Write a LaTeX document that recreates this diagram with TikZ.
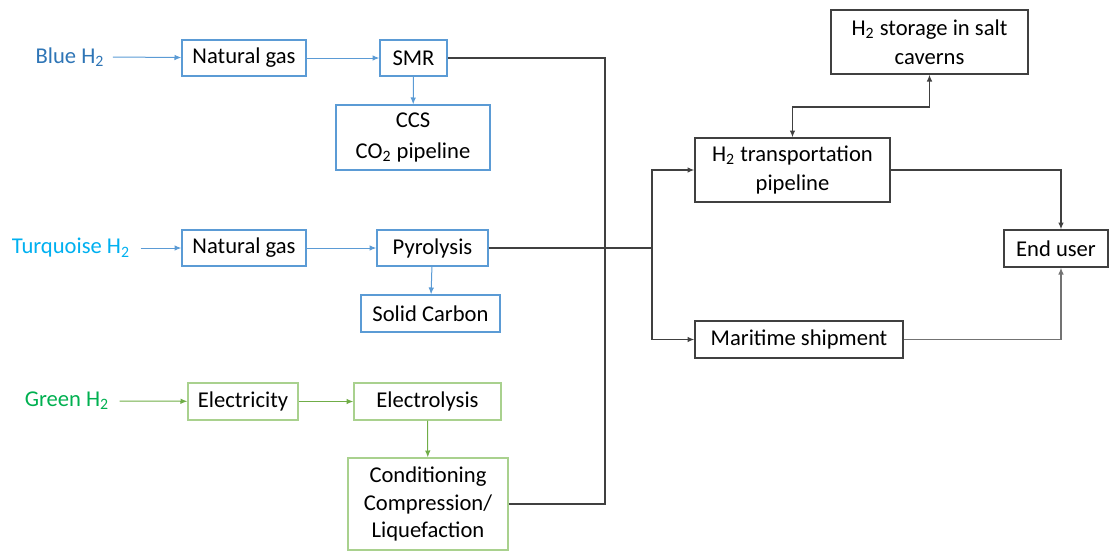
\documentclass[tikz,border=0pt]{standalone}
\usepackage{fontspec}
\setmainfont{Carlito}
\usepackage{xcolor}
\usetikzlibrary{arrows.meta}

\definecolor{blutxt}{RGB}{46,117,182}
\definecolor{blulin}{RGB}{91,155,213}
\definecolor{turtxt}{RGB}{0,176,240}
\definecolor{grntxt}{RGB}{0,176,80}
\definecolor{grnbox}{RGB}{169,209,142}
\definecolor{grnlin}{RGB}{112,173,71}
\definecolor{darklin}{RGB}{64,64,64}

\begin{document}
\begin{tikzpicture}[x=0.5pt, y=-0.5pt,
        every node/.style={font=\fontsize{11.3}{13.6}\selectfont, inner sep=0pt, align=center},
        box/.style={draw, line width=0.7pt},
        bluebox/.style={box, draw=blulin},
        greenbox/.style={box, draw=grnbox},
        blackbox/.style={box, draw=darklin},
        tip/.style={-{Latex[length=3.4pt, width=2.8pt]}},
        blueln/.style={tip, draw=blulin, line width=0.5pt},
        greenln/.style={tip, draw=grnlin, line width=0.5pt},
        darkln/.style={draw=darklin, line width=0.6pt}]
        \useasboundingbox (0, 0) rectangle (1110, 552);

        % blue route
        \node[text=blutxt] at (70, 57) (blue) {Blue H\textsubscript{2}};
        \node[bluebox, minimum width=62pt, minimum height=18pt] at (244, 58) (gas1) {Natural gas};
        \node[bluebox, minimum width=33.5pt, minimum height=18pt] at (413.5, 58) (smr) {SMR};
        \node[bluebox, minimum width=77pt, minimum height=32.5pt] at (413, 137.5) (ccs) {CCS\\[2pt]CO\textsubscript{2} pipeline};
        \draw[blueln] ([xshift=4pt]blue.east) -- (gas1);
        \draw[blueln] (gas1) -- (smr);
        \draw[blueln] (smr) -- (ccs);

        % turquoise route
        \node[text=turtxt] at (71, 248) (turq) {Turquoise H\textsubscript{2}};
        \node[bluebox, minimum width=62pt, minimum height=18pt] at (244, 248) (gas2) {Natural gas};
        \node[bluebox, minimum width=55.5pt, minimum height=18pt] at (432.5, 248) (pyro) {Pyrolysis};
        \node[bluebox, minimum width=69.5pt, minimum height=18.5pt] at (430.5, 313.5) (carbon) {Solid Carbon};
        \draw[blueln] ([xshift=5pt]turq.east) -- (gas2);
        \draw[blueln] (gas2) -- (pyro);
        \draw[blueln] (pyro) -- (carbon);

        % green route
        \node[text=grntxt] at (67, 401) (green) {Green H\textsubscript{2}};
        \node[greenbox, minimum width=55pt, minimum height=18.5pt] at (243, 401.5) (elec) {Electricity};
        \node[greenbox, minimum width=73.5pt, minimum height=18.5pt] at (427.5, 401.5) (lysis) {Electrolysis};
        \node[greenbox, minimum width=80pt, minimum height=46pt] at (428, 504) (cond) {Conditioning\\Compression/\\Liquefaction};
        \draw[greenln] ([xshift=5pt]green.east) -- (elec);
        \draw[greenln] (elec) -- (lysis);
        \draw[greenln] (lysis) -- (cond);

        % transport and end use
        \node[blackbox, minimum width=98.5pt, minimum height=32pt] at (929.5, 42) (store) {H\textsubscript{2} storage in salt\\[1pt]caverns};
        \node[blackbox, minimum width=97.5pt, minimum height=32pt] at (792.5, 170) (pipe) {H\textsubscript{2} transportation\\[1pt]pipeline};
        \node[blackbox, minimum width=52pt, minimum height=18.5pt] at (1056, 248.5) (user) {End user};
        \node[blackbox, minimum width=104pt, minimum height=18.5pt] at (799, 339.5) (ship) {Maritime shipment};
        \coordinate (merge) at (605, 300);
        \coordinate (split) at (652, 248);
        \coordinate (bend) at (860, 107);
        \draw[darkln] (smr.east) -| (merge) |- (cond.east);
        \draw[darkln] (pyro.east) -- (split);
        \draw[darkln, tip] (split) |- (pipe.west);
        \draw[darkln, tip] (split) |- (ship.west);
        \draw[darkln, {Latex[length=3.4pt, width=2.8pt]}-{Latex[length=3.4pt, width=2.8pt]}] (pipe.north) |- (bend) -| (store.south);
        \draw[darkln, tip] (pipe.east) -| ([xshift=2.5pt]user.north);
        \draw[darkln, draw=gray!90!black, tip] (ship.east) -| ([xshift=2.5pt]user.south);
    \end{tikzpicture}
\end{document}
